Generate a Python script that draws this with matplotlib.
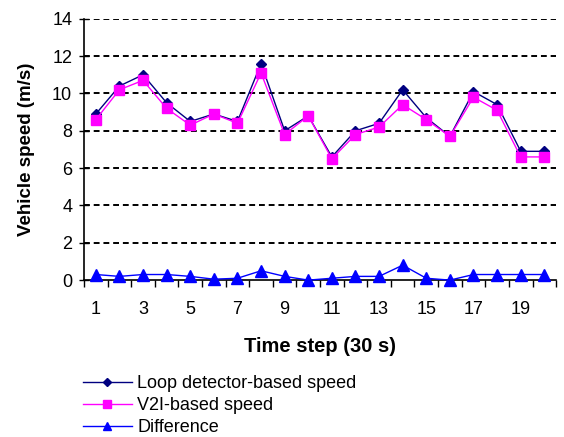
import matplotlib.pyplot as plt
import numpy as np

# Скорости по шагам времени (шаг 30 с)
steps = np.arange(1, 21)
loop_speed = [8.9, 10.4, 11.0, 9.5, 8.5, 8.9, 8.5, 11.6, 8.0, 8.8,
              6.6, 8.0, 8.4, 10.2, 8.7, 7.7, 10.1, 9.4, 6.9, 6.9]
v2i_speed = [8.6, 10.2, 10.7, 9.2, 8.3, 8.9, 8.4, 11.1, 7.8, 8.8,
             6.5, 7.8, 8.2, 9.4, 8.6, 7.7, 9.8, 9.1, 6.6, 6.6]
diff = [0.3, 0.2, 0.3, 0.3, 0.2, 0.05, 0.1, 0.5, 0.2, 0.0,
        0.1, 0.2, 0.2, 0.8, 0.1, 0.0, 0.3, 0.3, 0.3, 0.3]

plt.rcParams['font.family'] = ['Liberation Sans', 'DejaVu Sans']

fig = plt.figure(figsize=(5.64, 4.37), dpi=100)
ax = fig.add_axes([0.149, 0.359, 0.837, 0.598])

ax.plot(steps, loop_speed, color='#000080', linewidth=1, marker='D', markersize=5,
        label='Loop detector-based speed', zorder=3)
ax.plot(steps, v2i_speed, color='#FF00FF', linewidth=1, marker='s', markersize=7,
        label='V2I-based speed', zorder=4)
ax.plot(steps, diff, color='#0000FF', linewidth=1, marker='^', markersize=8,
        label='Difference', zorder=5, clip_on=False)

ax.set_xlim(0.5, 20.5)
ax.set_ylim(0, 14)
ax.set_yticks(range(0, 15, 2))
ax.set_xticks(range(1, 21, 2))
ax.set_xticks(np.arange(0.5, 21, 1), minor=True)
ax.tick_params(axis='x', which='major', length=0, pad=15, labelsize=13)
ax.tick_params(axis='x', which='minor', length=5, width=1, direction='out')
ax.tick_params(axis='y', length=7, width=1, direction='inout', pad=5, labelsize=13)

for y in range(2, 15, 2):
    ax.axhline(y, color='black', linestyle=(0, (3, 2)), linewidth=1.4, zorder=1)

ax.spines['top'].set_visible(False)
ax.spines['right'].set_visible(False)
ax.spines['left'].set_linewidth(1.2)
ax.spines['bottom'].set_linewidth(1.2)

ax.set_ylabel('Vehicle speed (m/s)', fontsize=13.5, fontweight='bold', labelpad=12,
              family=['Liberation Sans Narrow', 'Liberation Sans'])
ax.set_xlabel('Time step (30 s)', fontsize=14.5, fontweight='bold', labelpad=14)

fig.legend(loc='upper left', bbox_to_anchor=(0.147, 0.142), frameon=False,
           fontsize=13, handlelength=2.7, handletextpad=0.3, labelspacing=0.28,
           borderpad=0, borderaxespad=0, markerscale=0.8)

plt.savefig('out.png', dpi=100)
